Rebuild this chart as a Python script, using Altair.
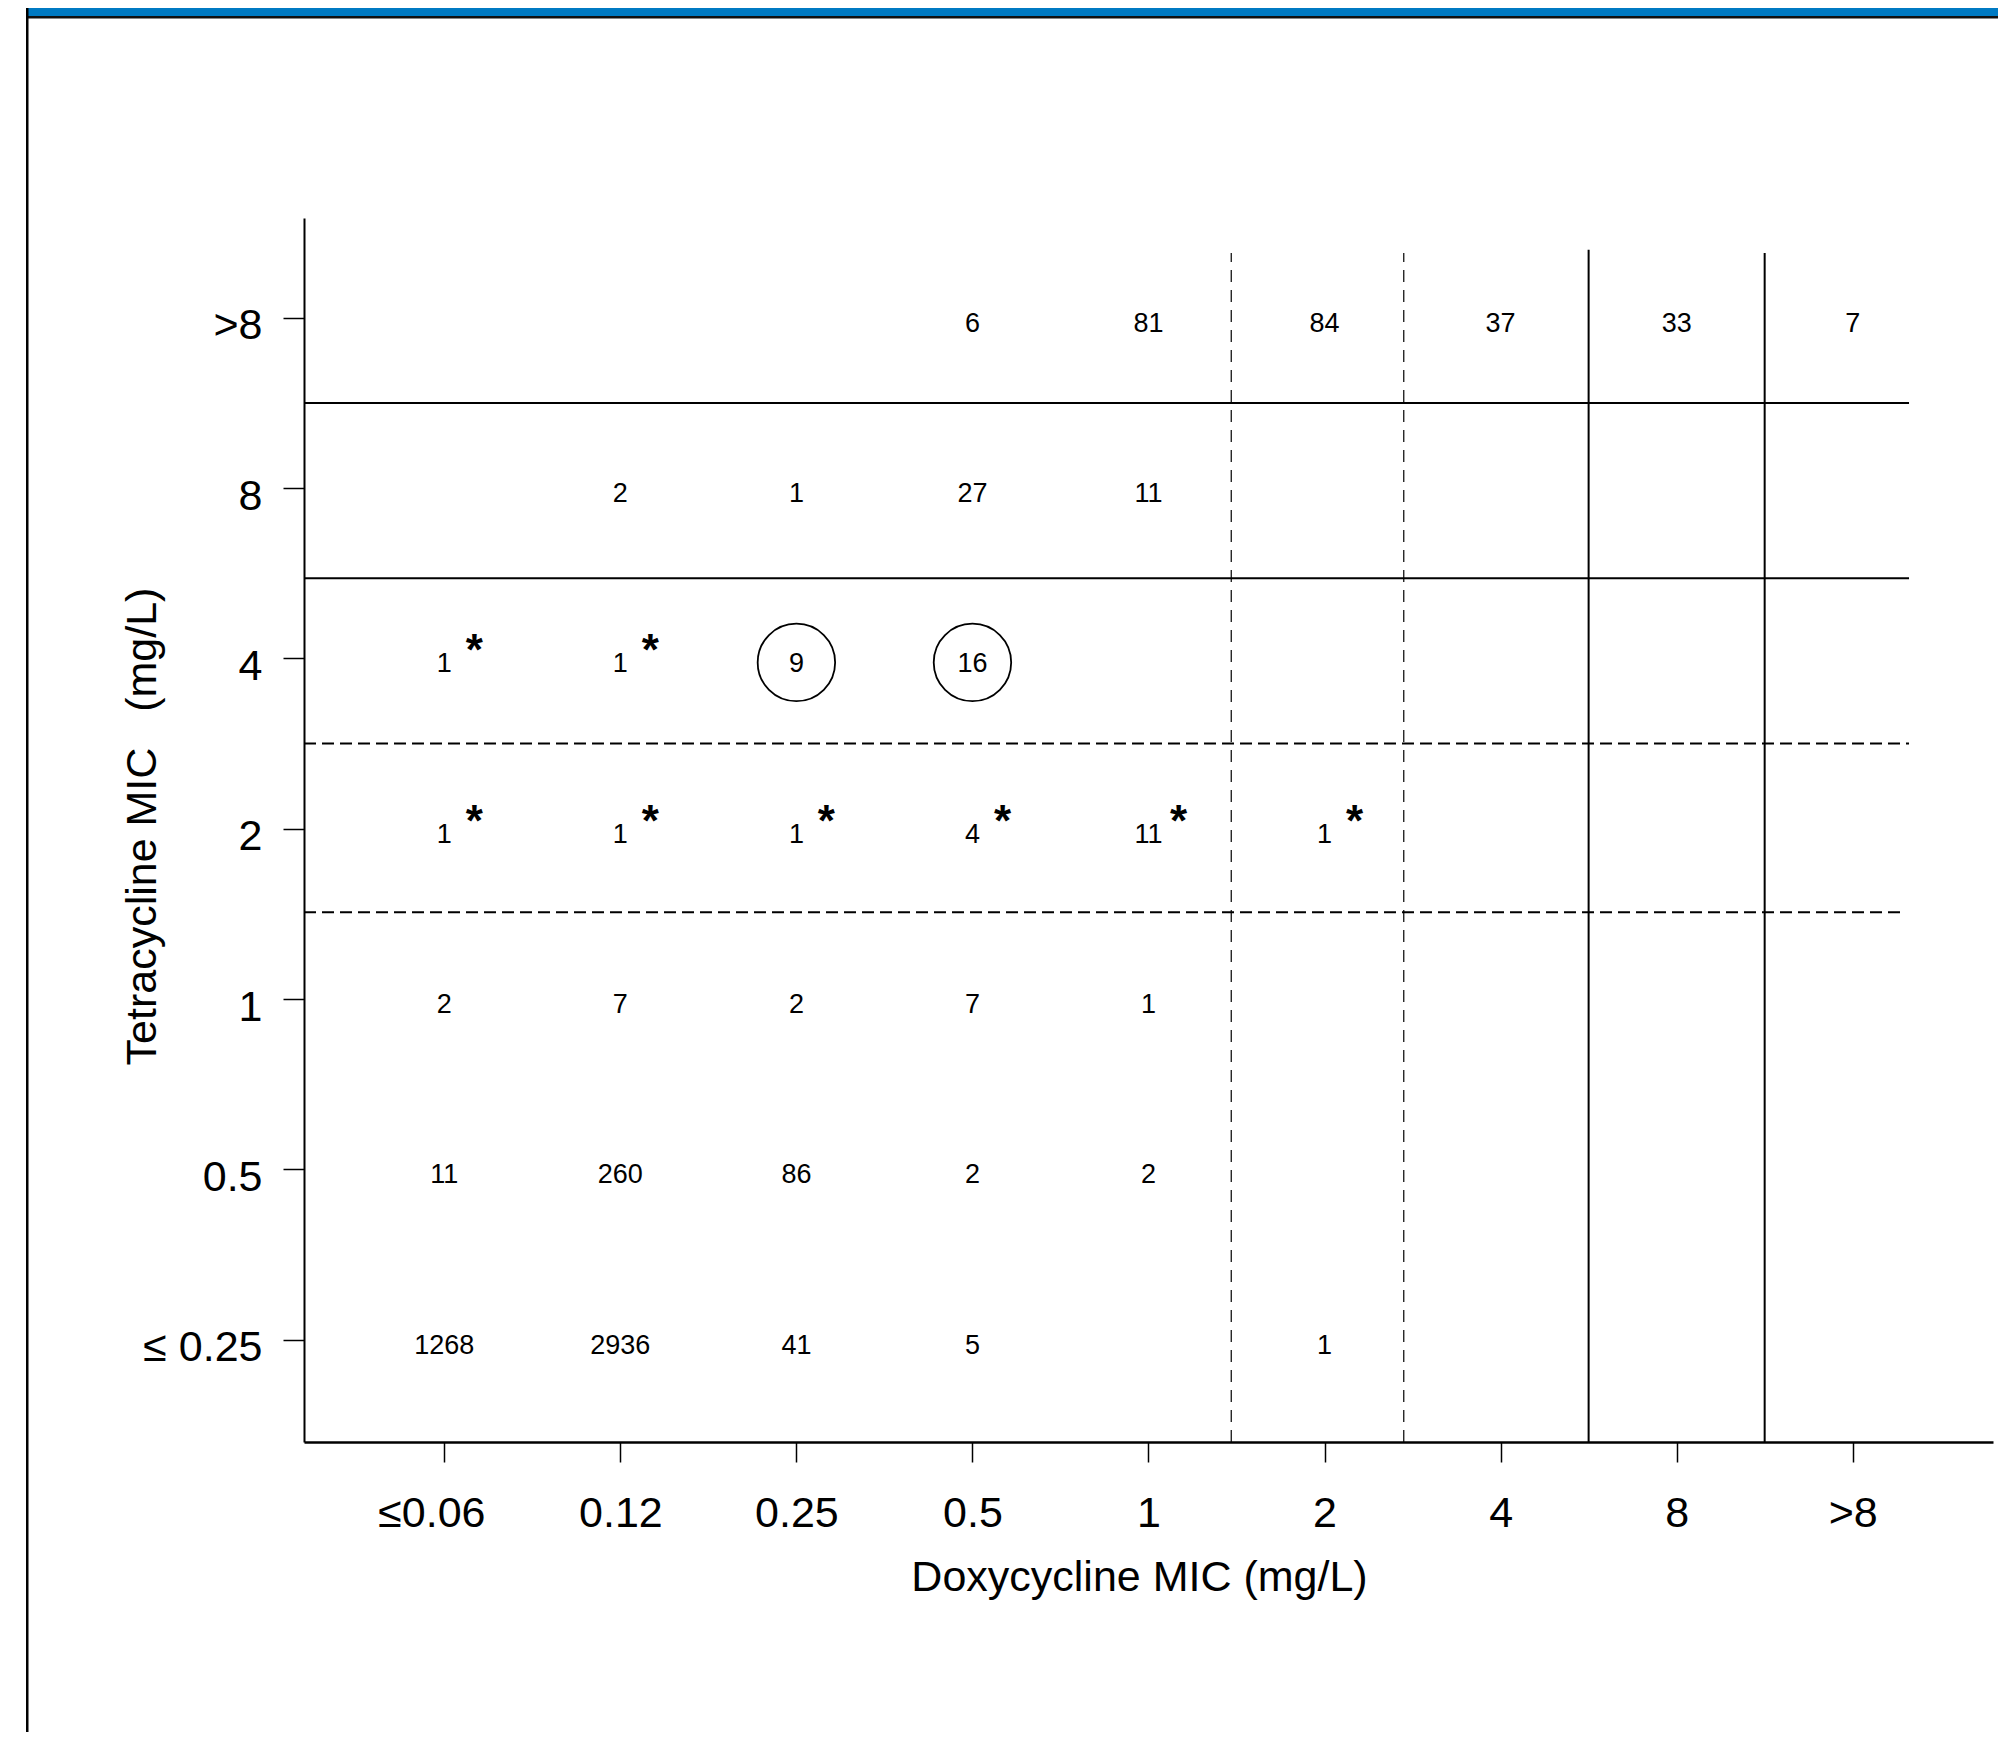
import json
import altair as alt
import pandas as pd

FONT = "Liberation Sans"

# Category labels (index order)
x_labels = ["≤0.06", "0.12", "0.25", "0.5", "1", "2", "4", "8", ">8"]   # Doxycycline MIC
y_labels = ["≤ 0.25", "0.5", "1", "2", "4", "8", ">8"]                   # Tetracycline MIC

# Counts per tetracycline row (columns follow x_labels); None = empty cell
row_le025 = [1268, 2936, 41, 5, None, 1, None, None, None]
row_05 = [11, 260, 86, 2, 2, None, None, None, None]
row_1 = [2, 7, 2, 7, 1, None, None, None, None]
row_2 = [1, 1, 1, 4, 11, 1, None, None, None]
row_4 = [1, 1, 9, 16, None, None, None, None, None]
row_8 = [None, 2, 1, 27, 11, None, None, None, None]
row_gt8 = [None, None, None, 6, 81, 84, 37, 33, 7]
rows = [row_le025, row_05, row_1, row_2, row_4, row_8, row_gt8]

# Cells marked with an asterisk / circled: (column index, row index)
starred = [(0, 4), (1, 4), (0, 3), (1, 3), (2, 3), (3, 3), (4, 3), (5, 3)]
circled = [(2, 4), (3, 4)]

# Breakpoint lines, in category-index units
h_solid_y = [5.5, 4.47]
h_solid_end = [8.32, 8.32]
h_dash_y = [3.5, 2.51]
h_dash_end = [8.32, 8.28]
v_dash_x = [4.47, 5.45]
v_dash_top = [6.38, 6.38]
v_solid_x = [6.5, 7.5]
v_solid_top = [6.40, 6.38]

# Scale extents (category-index units)
x_min, x_max = -0.797, 8.797
y_min, y_max = -0.601, 6.586

cells = []
for ri, row in enumerate(rows):
    for ci, v in enumerate(row):
        if v is not None:
            cells.append({"x": ci, "y": ri, "label": str(v),
                          "star": (ci, ri) in starred,
                          "circle": (ci, ri) in circled})
cells_df = pd.DataFrame(cells)
stars_df = cells_df[cells_df["star"]]
circ_df = cells_df[cells_df["circle"]]

hs_df = pd.DataFrame({"y": h_solid_y, "x": [x_min] * len(h_solid_y), "x2": h_solid_end})
hd_df = pd.DataFrame({"y": h_dash_y, "x": [x_min] * len(h_dash_y), "x2": h_dash_end})
vd_df = pd.DataFrame({"x": v_dash_x, "y": [y_min] * len(v_dash_x), "y2": v_dash_top})
vs_df = pd.DataFrame({"x": v_solid_x, "y": [y_min] * len(v_solid_x), "y2": v_solid_top})

xscale = alt.Scale(domain=[x_min, x_max], nice=False, zero=False)
yscale = alt.Scale(domain=[y_min, y_max], nice=False, zero=False)

x_axis = alt.Axis(
    values=list(range(len(x_labels))),
    labelExpr=json.dumps(x_labels, ensure_ascii=False) + "[datum.value]",
    title="Doxycycline MIC (mg/L)",
    grid=False, domainColor="black", domainWidth=2.5,
    tickColor="black", tickWidth=1.5, tickSize=20,
    labelFont=FONT, labelFontSize=43, labelColor="black",
    labelBaseline="alphabetic", labelPadding=64,
    labelOffset={"condition": {"test": "datum.value == 0", "value": -13}, "value": 0},
    titleFont=FONT, titleFontSize=43, titleFontWeight="normal", titleColor="black",
    titleX=835, titleY=148, titleBaseline="alphabetic",
)
y_axis = alt.Axis(
    values=list(range(len(y_labels))),
    labelExpr=json.dumps(y_labels, ensure_ascii=False) + "[datum.value]",
    title="Tetracycline MIC\u00a0\u00a0\u00a0(mg/L)",
    grid=False, domainColor="black", domainWidth=2,
    tickColor="black", tickWidth=1.5, tickSize=21,
    labelFont=FONT, labelFontSize=43, labelColor="black",
    labelBaseline="alphabetic", labelOffset=21, labelPadding=21,
    titleFont=FONT, titleFontSize=43, titleFontWeight="normal", titleColor="black",
    titleX=-149, titleY=608, titleBaseline="alphabetic", titleAngle=270,
)


def X(field):
    return alt.X(field, scale=xscale, axis=x_axis)


def Y(field):
    return alt.Y(field, scale=yscale, axis=y_axis)


text_layer = alt.Chart(cells_df).mark_text(
    font=FONT, fontSize=27, color="black", baseline="alphabetic", dy=14
).encode(x=X("x:Q"), y=Y("y:Q"), text="label:N")

star_layer = alt.Chart(stars_df).mark_text(
    font=FONT, fontSize=44, fontWeight="bold", color="black",
    baseline="alphabetic", dx=30, dy=7
).encode(x=X("x:Q"), y=Y("y:Q"), text=alt.value("*"))

circle_layer = alt.Chart(circ_df).mark_point(
    shape="circle", filled=False, color="black", strokeWidth=1.8, size=6000, opacity=1
).encode(x=X("x:Q"), y=Y("y:Q"), yOffset=alt.value(4))

hs_layer = alt.Chart(hs_df).mark_rule(color="black", strokeWidth=2).encode(
    x=X("x:Q"), x2="x2:Q", y=Y("y:Q"))
hd_layer = alt.Chart(hd_df).mark_rule(color="black", strokeWidth=2, strokeDash=[12, 6]).encode(
    x=X("x:Q"), x2="x2:Q", y=Y("y:Q"))
vd_layer = alt.Chart(vd_df).mark_rule(color="black", strokeWidth=1.2, strokeDash=[12, 8]).encode(
    x=X("x:Q"), y=Y("y:Q"), y2="y2:Q")
vs_layer = alt.Chart(vs_df).mark_rule(color="black", strokeWidth=2).encode(
    x=X("x:Q"), y=Y("y:Q"), y2="y2:Q")

# Decorative page frame: blue header band and left border
one = pd.DataFrame({"k": [0]})
band = alt.Chart(one).mark_rect(color="#007AC3", clip=False).encode(
    x=alt.value(-276), x2=alt.value(1700), y=alt.value(-212), y2=alt.value(-202))
band_line = alt.Chart(one).mark_rect(color="#111111", clip=False).encode(
    x=alt.value(-276), x2=alt.value(1700), y=alt.value(-202), y2=alt.value(-199.5))
left_border = alt.Chart(one).mark_rect(color="black", clip=False).encode(
    x=alt.value(-278), x2=alt.value(-275.5), y=alt.value(-212), y2=alt.value(1520))

chart = alt.layer(
    hs_layer, hd_layer, vd_layer, vs_layer,
    circle_layer, text_layer, star_layer,
    band, band_line, left_border,
).properties(
    width=1689, height=1224,
    autosize=alt.AutoSizeParams(type="none"),
    padding={"left": 296, "top": 210, "right": 5, "bottom": 290},
    background="white",
).configure_view(strokeWidth=0)

chart.save("out.html", embed_options={"renderer": "svg", "actions": False})
